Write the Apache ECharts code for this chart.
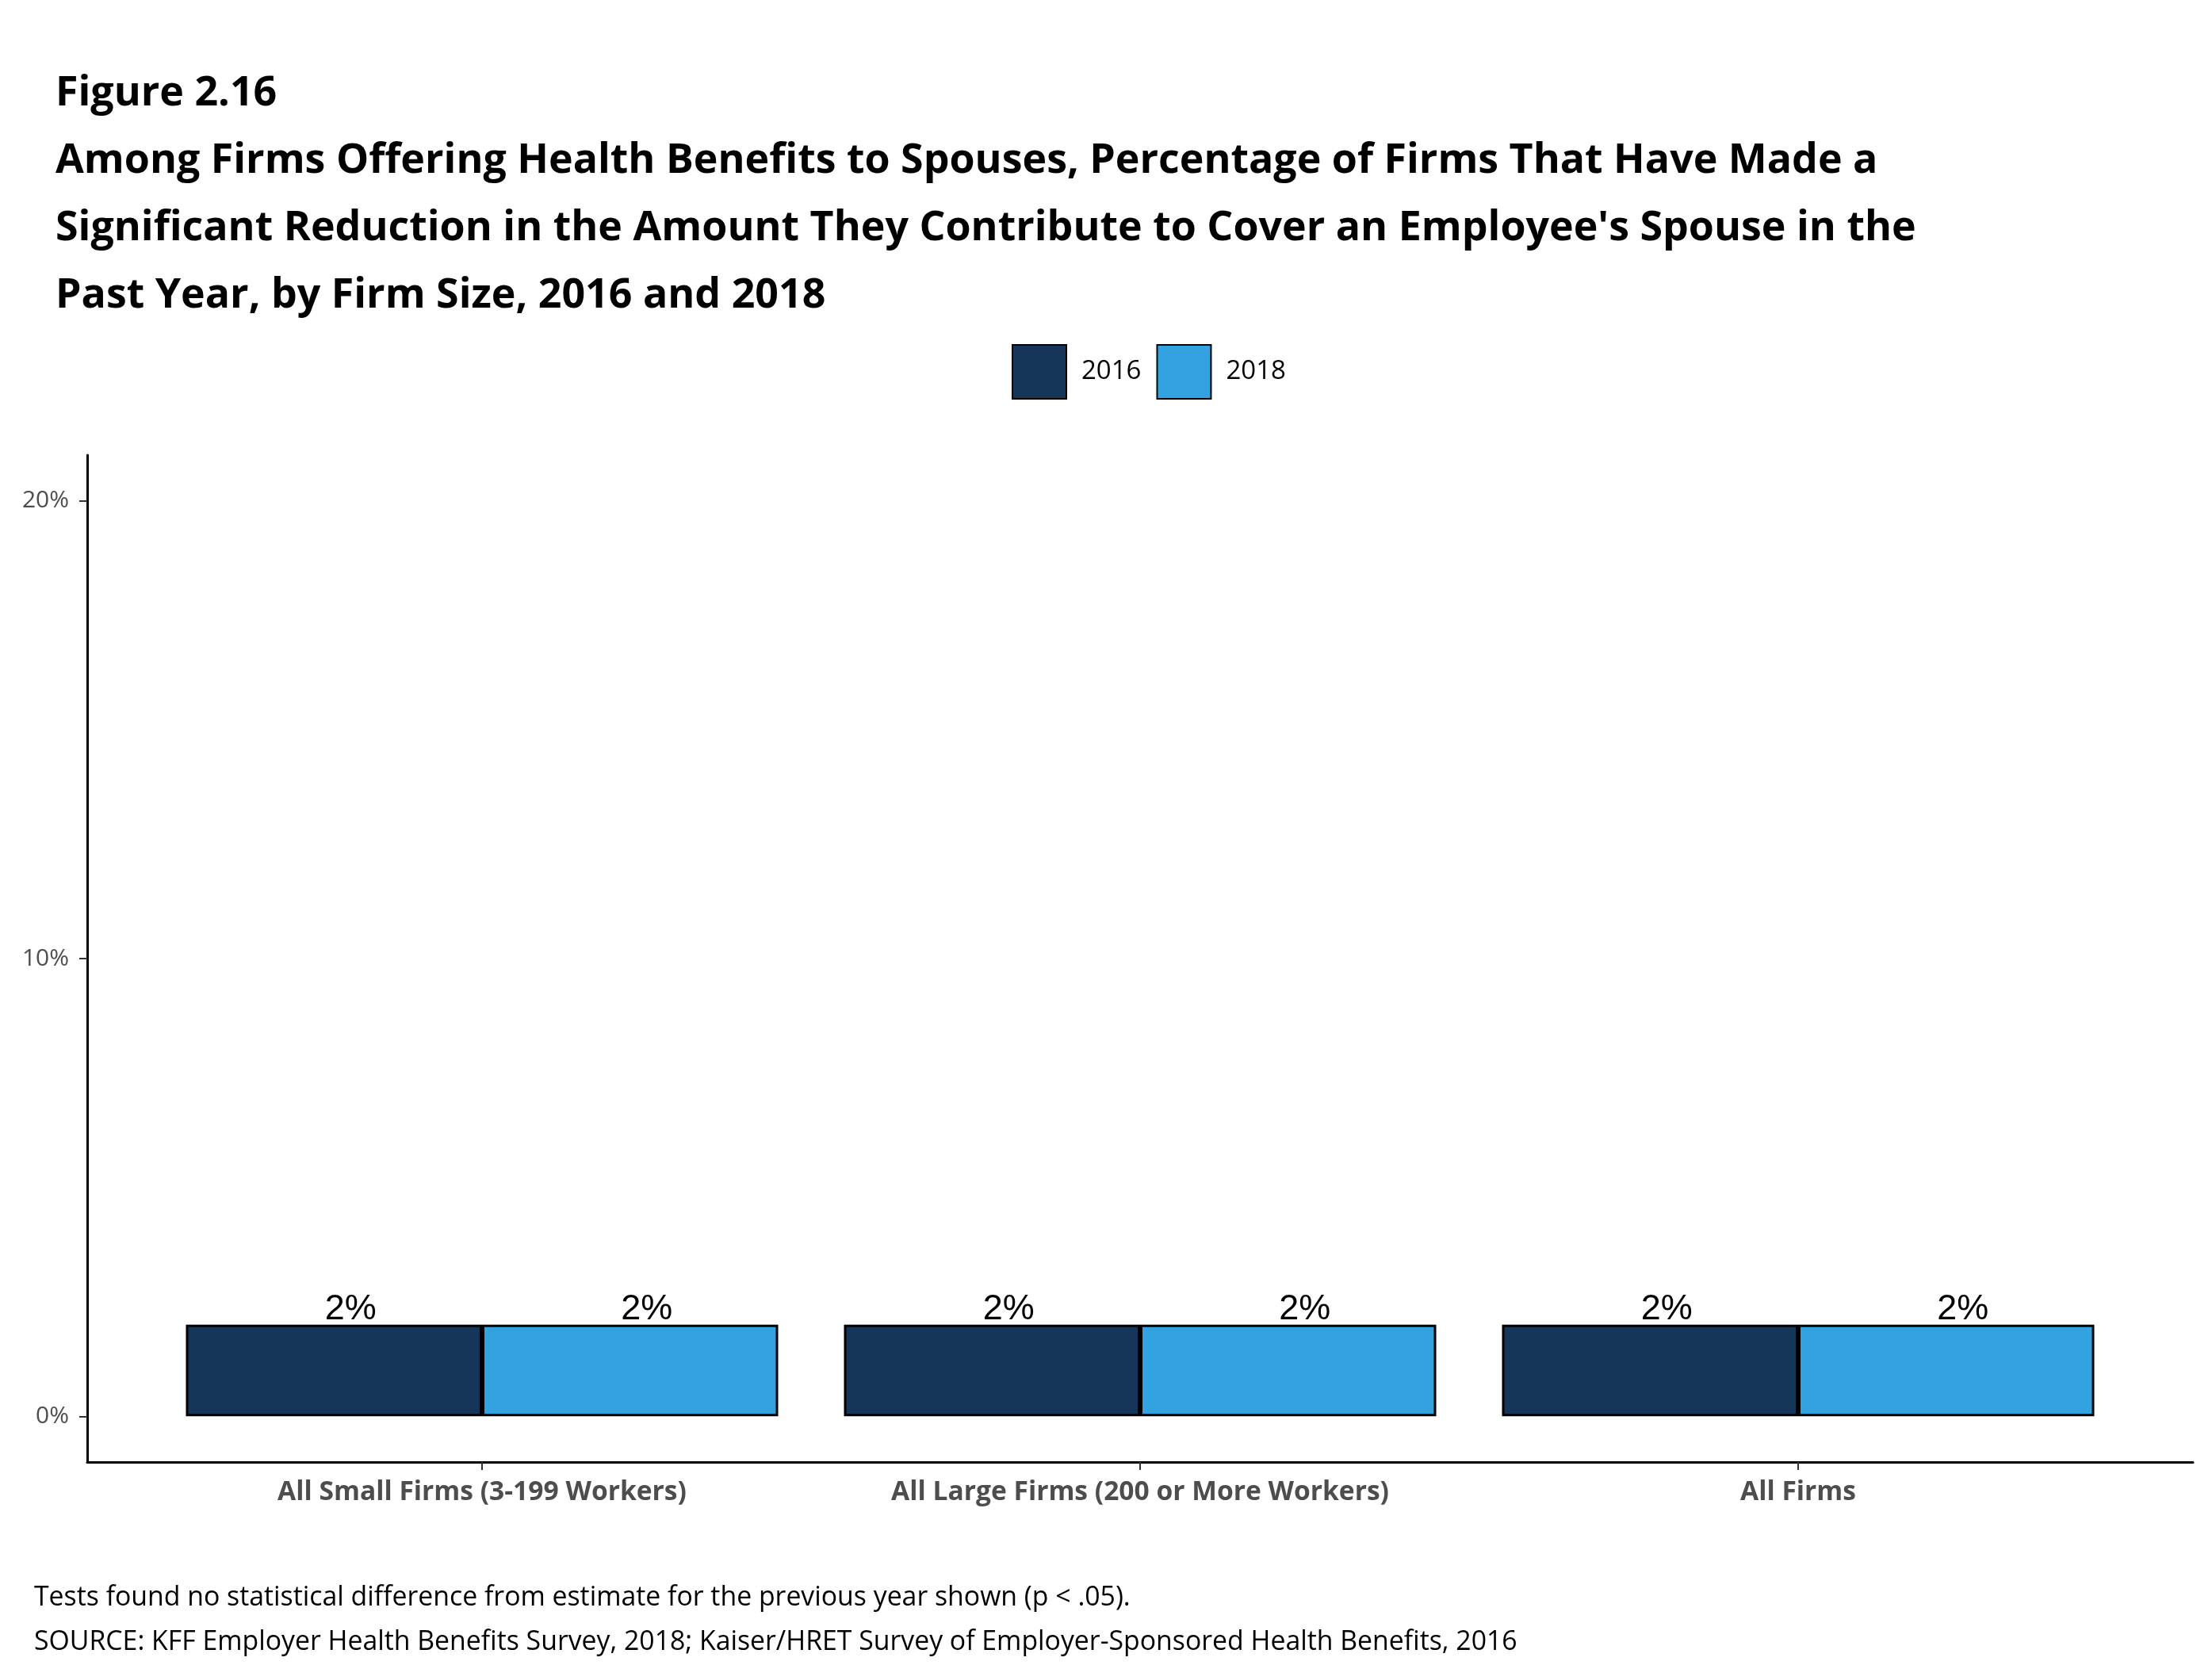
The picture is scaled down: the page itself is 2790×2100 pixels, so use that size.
<!DOCTYPE html>
<html>
<head>
<meta charset="utf-8">
<title>Figure 2.16</title>
<script src="https://cdn.jsdelivr.net/npm/echarts@6/dist/echarts.min.js"></script>
<style>
  html, body { margin: 0; padding: 0; background: #ffffff; }
  #chart { width: 2790px; height: 2100px; }
</style>
</head>
<body>
<div id="chart"></div>
<script>
// ---- Data ----
const categories = [
  'All Small Firms (3-199 Workers)',
  'All Large Firms (200 or More Workers)',
  'All Firms'
];
const seriesNames = ['2016', '2018'];
const values2016 = [2, 2, 2];
const values2018 = [2, 2, 2];
const yTickValues = [0, 10, 20];

const titleLines = [
  'Figure 2.16',
  'Among Firms Offering Health Benefits to Spouses, Percentage of Firms That Have Made a',
  'Significant Reduction in the Amount They Contribute to Cover an Employee\'s Spouse in the',
  'Past Year, by Firm Size, 2016 and 2018'
];
const noteLines = [
  'Tests found no statistical difference from estimate for the previous year shown (p < .05).',
  'SOURCE: KFF Employer Health Benefits Survey, 2018; Kaiser/HRET Survey of Employer-Sponsored Health Benefits, 2016'
];

// ---- Build ----
const catPositions = categories.map((c, i) => i + 1);
const toPairs = vals => vals.map((v, i) => [catPositions[i], v]);

const colors = ['#163659', '#32A2E0'];
const FONT = 'Open Sans';

const labelCfg = {
  show: true,
  position: 'top',
  distance: -3,
  offset: [21, 0],
  formatter: p => p.value[1] + '%',
  fontFamily: 'Liberation Sans',
  fontSize: 45,
  color: '#000000'
};

const chart = echarts.init(document.getElementById('chart'), null, { renderer: 'canvas' });

chart.setOption({
  animation: false,
  backgroundColor: '#ffffff',
  title: [
    {
      text: titleLines.join('\n'),
      left: 70,
      top: 76,
      padding: 0,
      textStyle: {
        fontFamily: FONT,
        fontWeight: 'bold',
        fontSize: 51.9,
        lineHeight: 85,
        color: '#000000'
      }
    },
    {
      text: noteLines.join('\n'),
      left: 43,
      top: 1987,
      padding: 0,
      textStyle: {
        fontFamily: FONT,
        fontWeight: 'normal',
        fontSize: 33.8,
        lineHeight: 56,
        color: '#000000'
      }
    }
  ],
  legend: {
    data: seriesNames,
    left: 1276,
    top: 434,
    padding: 0,
    itemWidth: 68,
    itemHeight: 68,
    itemGap: 19,
    icon: 'rect',
    textStyle: {
      fontFamily: FONT,
      fontSize: 33,
      color: '#000000',
      padding: [6, 0, 0, 14]
    }
  },
  grid: {
    left: 110,
    right: 24,
    top: 574,
    bottom: 256
  },
  xAxis: {
    type: 'value',
    min: 0.4,
    max: 3.6,
    splitLine: { show: false },
    axisLine: { show: true, onZero: false, lineStyle: { color: '#000000', width: 3 } },
    axisTick: {
      show: true,
      customValues: catPositions,
      length: 10,
      lineStyle: { color: '#333333', width: 2 }
    },
    axisLabel: {
      show: true,
      customValues: catPositions,
      formatter: v => categories[Math.round(v) - 1] || '',
      margin: 21,
      fontFamily: FONT,
      fontWeight: 'bold',
      fontSize: 33.6,
      color: '#4D4D4D'
    }
  },
  yAxis: {
    type: 'value',
    min: -1,
    max: 21,
    splitLine: { show: false },
    axisLine: { show: true, onZero: false, lineStyle: { color: '#000000', width: 3 } },
    axisTick: {
      show: true,
      customValues: yTickValues,
      length: 10,
      lineStyle: { color: '#333333', width: 2 }
    },
    axisLabel: {
      show: true,
      customValues: yTickValues,
      formatter: '{value}%',
      margin: 23,
      fontFamily: FONT,
      fontSize: 30,
      color: '#4D4D4D'
    }
  },
  series: [
    {
      name: seriesNames[0],
      type: 'bar',
      data: toPairs(values2016),
      barWidth: '45%',
      barGap: '0%',
      itemStyle: { color: colors[0], borderColor: '#000000', borderWidth: 3 },
      label: labelCfg
    },
    {
      name: seriesNames[1],
      type: 'bar',
      data: toPairs(values2018),
      barWidth: '45%',
      barGap: '0%',
      itemStyle: { color: colors[1], borderColor: '#000000', borderWidth: 3 },
      label: labelCfg
    }
  ]
});
</script>
</body>
</html>
